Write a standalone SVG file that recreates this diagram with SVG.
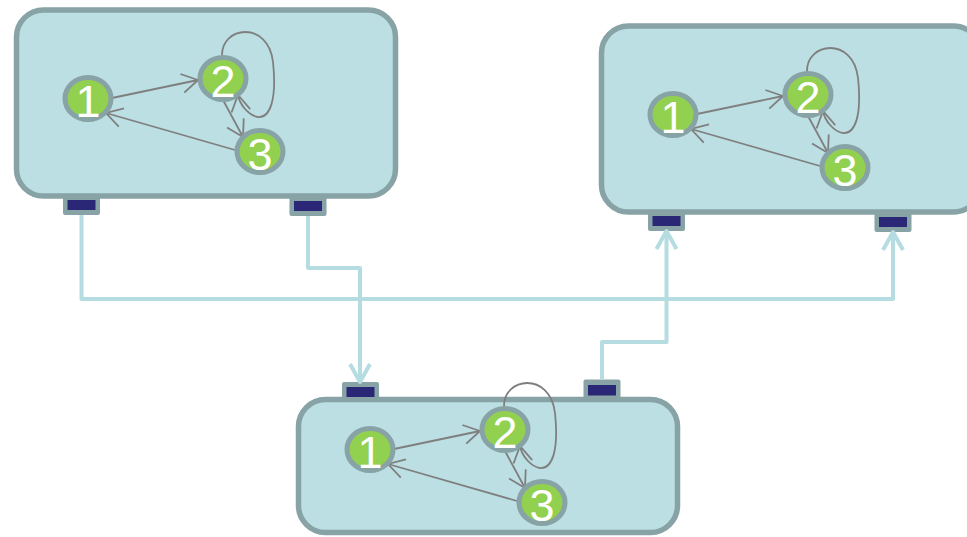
<svg xmlns="http://www.w3.org/2000/svg" width="967" height="537" viewBox="0 0 967 537">
  <style>
    .box { fill: #BBDFE3; stroke: #88A3A6; stroke-width: 5.5; }
    .port { fill: #88A3A6; }
    .port-in { fill: #2A2876; }
    .node { fill: #92D050; stroke: #88A3A6; stroke-width: 5; }
    .label { fill: #FFFFFF; font-family: "Liberation Sans", Arial, sans-serif; font-size: 45px; text-anchor: middle; }
    .edge { fill: none; stroke: #7F7F7F; stroke-width: 1.8; marker-end: url(#arrowGray); }
    .link { fill: none; stroke: #B5DCE0; stroke-width: 4; stroke-linejoin: round; marker-end: url(#arrowBlue); }
  </style>
  <defs>
    <marker id="arrowGray" markerUnits="userSpaceOnUse" markerWidth="40" markerHeight="40" viewBox="-20 -20 40 40" refX="0" refY="0" orient="auto" overflow="visible">
      <path d="M-16,-9.5 L0,0 L-16,9.5" fill="none" stroke="#7F7F7F" stroke-width="1.8"/>
    </marker>
    <marker id="arrowBlue" markerUnits="userSpaceOnUse" markerWidth="40" markerHeight="40" viewBox="-20 -20 40 40" refX="0" refY="0" orient="auto" overflow="visible">
      <path d="M-18,-10 L0,0 L-18,10" fill="none" stroke="#B5DCE0" stroke-width="4" stroke-linejoin="round"/>
    </marker>
  </defs>

  <!-- Box A (top left) -->
  <g id="boxA">
    <rect class="box" x="16.5" y="10" width="379" height="186" rx="27"/>
    <g id="boxA-port1"><rect class="port" x="63" y="195" width="37" height="20" rx="2"/><rect class="port-in" x="67.5" y="200" width="28" height="10"/></g>
    <g id="boxA-port2"><rect class="port" x="289.5" y="196" width="37" height="20" rx="2"/><rect class="port-in" x="294" y="201" width="28" height="10"/></g>
    <g id="boxA-edges">
      <path class="edge" d="M112,98 L198,80"/>
      <path class="edge" d="M235,150 L106,113"/>
      <path class="edge" d="M223,100 L243,137"/>
      <path class="edge" d="M222,56 C221,26 268,20 273,62 C277,100 270,118 258,117 C250,116 240,106 238,95"/>
    </g>
    <g id="boxA-n1"><ellipse class="node" cx="88" cy="98.5" rx="23" ry="21"/><text class="label" x="88" y="116.5">1</text></g>
    <g id="boxA-n2"><ellipse class="node" cx="223" cy="78.5" rx="23" ry="21"/><text class="label" x="223" y="96.5">2</text></g>
    <g id="boxA-n3"><ellipse class="node" cx="260" cy="151.5" rx="23" ry="21"/><text class="label" x="260" y="169.5">3</text></g>
  </g>

  <!-- Box B (top right) -->
  <g id="boxB">
    <rect class="box" x="601.5" y="26" width="379" height="186" rx="27"/>
    <g id="boxB-port1"><rect class="port" x="648" y="211" width="37" height="20" rx="2"/><rect class="port-in" x="652.5" y="216" width="28" height="10"/></g>
    <g id="boxB-port2"><rect class="port" x="874.5" y="212" width="37" height="20" rx="2"/><rect class="port-in" x="879" y="217" width="28" height="10"/></g>
    <g transform="translate(585,16)">
      <g id="boxB-edges">
        <path class="edge" d="M112,98 L198,80"/>
        <path class="edge" d="M235,150 L106,113"/>
        <path class="edge" d="M223,100 L243,137"/>
        <path class="edge" d="M222,56 C221,26 268,20 273,62 C277,100 270,118 258,117 C250,116 240,106 238,95"/>
      </g>
      <g id="boxB-n1"><ellipse class="node" cx="88" cy="98.5" rx="23" ry="21"/><text class="label" x="88" y="116.5">1</text></g>
      <g id="boxB-n2"><ellipse class="node" cx="223" cy="78.5" rx="23" ry="21"/><text class="label" x="223" y="96.5">2</text></g>
      <g id="boxB-n3"><ellipse class="node" cx="260" cy="151.5" rx="23" ry="21"/><text class="label" x="260" y="169.5">3</text></g>
    </g>
  </g>

  <!-- Box C (bottom) -->
  <g id="boxC">
    <rect class="box" x="298.5" y="399.5" width="379" height="133" rx="27"/>
    <g id="boxC-port1"><rect class="port" x="342" y="382" width="37" height="20" rx="2"/><rect class="port-in" x="346.5" y="387" width="28" height="10"/></g>
    <g id="boxC-port2"><rect class="port" x="583.5" y="379.5" width="37" height="20" rx="2"/><rect class="port-in" x="588" y="385" width="28" height="10.5"/></g>
    <g transform="translate(282,351)">
      <g id="boxC-edges">
        <path class="edge" d="M112,98 L198,80"/>
        <path class="edge" d="M235,150 L106,113"/>
        <path class="edge" d="M223,100 L243,137"/>
        <path class="edge" d="M222,56 C221,26 268,20 273,62 C277,100 270,118 258,117 C250,116 240,106 238,95"/>
      </g>
      <g id="boxC-n1"><ellipse class="node" cx="88" cy="98.5" rx="23" ry="21"/><text class="label" x="88" y="116.5">1</text></g>
      <g id="boxC-n2"><ellipse class="node" cx="223" cy="78.5" rx="23" ry="21"/><text class="label" x="223" y="96.5">2</text></g>
      <g id="boxC-n3"><ellipse class="node" cx="260" cy="151.5" rx="23" ry="21"/><text class="label" x="260" y="169.5">3</text></g>
    </g>
  </g>

  <!-- Port-to-port links -->
  <g id="links">
    <path class="link" d="M81.5,215 V299 H893 V232"/>
    <path class="link" d="M308,216 V268 H360 V382"/>
    <path class="link" d="M602,379.5 V342 H666.5 V231"/>
  </g>
</svg>
